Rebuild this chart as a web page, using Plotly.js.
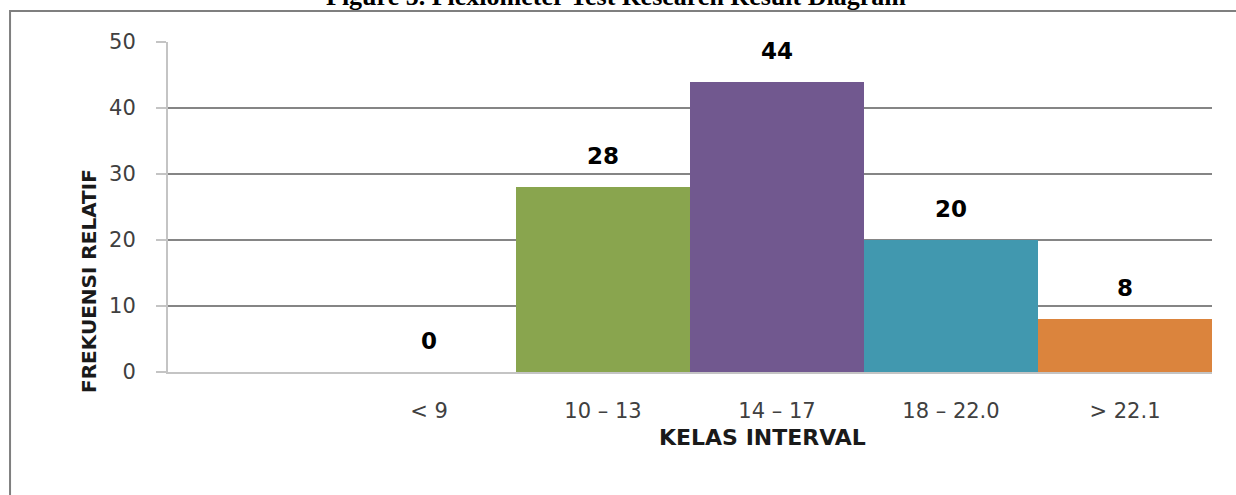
<!DOCTYPE html>
<html>
<head>
<meta charset="utf-8">
<script src="https://cdn.plot.ly/plotly-3.0.1.min.js"></script>
<style>
html,body{margin:0;padding:0;background:#fff;}
#chart{width:1236px;height:495px;}
</style>
</head>
<body>
<div id="chart"></div>
<script>
const categories = ['< 9', '10 \u2013 13', '14 \u2013 17', '18 \u2013 22.0', '> 22.1'];
const values = [0, 28, 44, 20, 8];
const barColors = ['#FFFFFF', '#89A54E', '#71588F', '#4198AF', '#DB843D'];
const yTicks = [0, 10, 20, 30, 40, 50];
const chartTitle = 'Figure 5. Flexiometer Test Research Result Diagram';
const xTitle = 'KELAS INTERVAL';
const yTitle = 'FREKUENSI RELATIF';

const trace = {
  type: 'bar',
  x: categories,
  y: values,
  width: 1,
  marker: {color: barColors, line: {width: 0}},
  hoverinfo: 'x+y'
};

const labelAnnotations = categories.map((c, i) => ({
  x: c, y: values[i], xref: 'x', yref: 'y',
  text: String(values[i]),
  showarrow: false,
  xanchor: 'center', yanchor: 'bottom',
  yshift: 16,
  font: {family: 'DejaVu Sans', size: 23, color: '#000000', weight: 'bold'}
}));

const layout = {
  width: 1236, height: 495,
  margin: {l: 168, r: 24, t: 42, b: 123},
  paper_bgcolor: '#ffffff',
  plot_bgcolor: '#ffffff',
  showlegend: false,
  bargap: 0,
  xaxis: {
    type: 'category',
    range: [-1.5, 4.5],
    showgrid: false,
    zeroline: false,
    showline: true,
    linecolor: '#c4c4c4',
    linewidth: 2,
    ticks: '',
    ticklabelstandoff: 19,
    tickfont: {family: 'DejaVu Sans', size: 21, color: '#404040'},
    fixedrange: true
  },
  yaxis: {
    range: [0, 50],
    tickvals: yTicks,
    ticktext: yTicks.map(String),
    showgrid: true,
    gridcolor: '#858585',
    gridwidth: 2,
    zeroline: false,
    showline: true,
    linecolor: '#c4c4c4',
    linewidth: 2,
    ticks: 'outside',
    ticklen: 10,
    tickwidth: 2,
    tickcolor: '#c4c4c4',
    ticklabelstandoff: 16,
    tickfont: {family: 'DejaVu Sans', size: 21, color: '#404040'},
    fixedrange: true
  },
  shapes: [{
    type: 'rect', xref: 'paper', yref: 'paper',
    x0: -0.1513, x1: 1.2, y0: 1.0939, y1: -0.6,
    line: {color: '#7f7f7f', width: 2},
    fillcolor: 'rgba(0,0,0,0)'
  }],
  annotations: labelAnnotations.concat([
    {
      xref: 'paper', yref: 'paper', x: 0.4293, y: 1.088,
      xanchor: 'center', yanchor: 'bottom',
      text: '<b>' + chartTitle + '</b>', showarrow: false,
      font: {family: 'Liberation Serif', size: 26, color: '#000000'}
    },
    {
      xref: 'paper', yref: 'paper', x: 0.569, y: -0.197,
      xanchor: 'center', yanchor: 'middle',
      text: '<b>' + xTitle + '</b>', showarrow: false,
      font: {family: 'DejaVu Sans', size: 22, color: '#1a1a1a'}
    },
    {
      xref: 'paper', yref: 'paper', x: -0.0757, y: 0.2758,
      xanchor: 'center', yanchor: 'middle', textangle: -90,
      text: '<b>' + yTitle + '</b>', showarrow: false,
      font: {family: 'DejaVu Sans', size: 20, color: '#1a1a1a'}
    }
  ])
};

Plotly.newPlot('chart', [trace], layout, {displayModeBar: false, staticPlot: true});
</script>
</body>
</html>
